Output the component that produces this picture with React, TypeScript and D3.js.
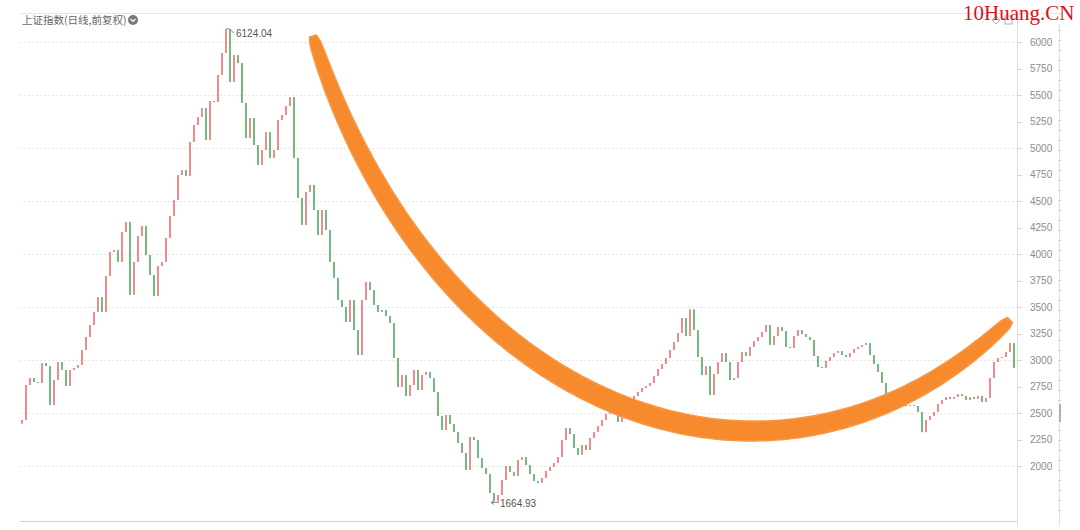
import React from 'react';
import * as d3 from 'd3';

const W = 1080;
const H = 530;

// 上证指数 daily closes, open = previous close
const firstOpen = 2400;
const closes = [
  2434, 2764, 2830, 2792, 2783, 2972, 2943, 2575, 2811, 2981,
  2906, 2755, 2906, 2925, 2953, 3094, 3217, 3330, 3453, 3594,
  3453, 3792, 4019, 4038, 3925, 4208, 4302, 3613, 3925, 4170,
  4264, 3991, 3802, 3604, 3887, 3925, 4151, 4359, 4509, 4745,
  4792, 4736, 5057, 5217, 5292, 5377, 5075, 5443, 5434, 5689,
  5896, 6124.04, 5623, 5877, 5802, 5425, 5094, 5283, 5028, 4840,
  4981, 5151, 4906, 4981, 5264, 5311, 5396, 5481, 4906, 4528,
  4274, 4585, 4651, 4415, 4179, 4415, 4226, 3925, 3774, 3566,
  3500, 3358, 3566, 3283, 3047, 3566, 3736, 3660, 3519, 3453,
  3472, 3415, 3349, 3019, 2745, 2858, 2660, 2764, 2906, 2717,
  2858, 2887, 2830, 2698, 2472, 2340, 2481, 2396, 2321, 2217,
  2123, 1962, 2274, 2245, 2075, 1981, 1925, 1745, 1664.93, 1726,
  1868, 2000, 1943, 1906, 2057, 2085, 2009, 1925, 1858, 1840,
  1887, 1953, 1991, 2028, 2085, 2245, 2358, 2302, 2170, 2104,
  2198, 2151, 2264, 2321, 2377, 2434, 2491, 2509, 2509, 2415,
  2491, 2575, 2623, 2660, 2698, 2736, 2755, 2783, 2849, 2915,
  2962, 3019, 3094, 3170, 3255, 3396, 3226, 3478, 3283, 3028,
  2858, 2943, 2670, 2868, 2981, 3066, 2981, 2811, 2830, 2981,
  3075, 3038, 3123, 3179, 3217, 3264, 3330, 3142, 3226, 3311,
  3274, 3123, 3113, 3226, 3283, 3245, 3217, 3189, 3038, 2934,
  2925, 2991, 3028, 3066, 3085, 3047, 3028, 3066, 3104, 3123,
  3142, 3160, 3047, 2962, 2887, 2783, 2670, 2651, 2660, 2642,
  2604, 2566, 2575, 2566, 2509, 2319, 2434, 2472, 2509, 2585,
  2623, 2651, 2632, 2651, 2679, 2660, 2623, 2651, 2632, 2660,
  2604, 2642, 2830, 2981, 3019, 3028, 3075, 3160, 2925,
];

const yTicks = [2000, 2250, 2500, 2750, 3000, 3250, 3500, 3750, 4000, 4250, 4500, 4750, 5000, 5250, 5500, 5750, 6000];
const gridValues = [2000, 2500, 3000, 3500, 4000, 4500, 5000, 5500, 6000];

// hand-drawn orange crescent: cubic Bézier control points in data units [candle index, index value]
const arcCtrl: [number, number][] = [
  [72.75, 6057],
  [103, 2462],
  [189.5, 1255],
  [247, 3377],
];

const title = '上证指数(日线,前复权)';
const watermark = '10Huang.CN';

const UP = '#ea6c6c';
const DOWN = '#4aa55a';

export default function App() {
  const left = 20;
  const axisX = 1017;
  const x = d3.scaleLinear().domain([0, closes.length - 1]).range([22, 1014]);
  const y = d3.scaleLinear().domain([2000, 6000]).range([466, 42]);

  const candles = closes.map((c, i) => {
    const o = i === 0 ? firstOpen : closes[i - 1];
    return { i, o, c };
  });
  const bw = 1.7;

  const maxV = d3.max(closes) as number;
  const minV = d3.min(closes) as number;
  const maxI = closes.indexOf(maxV);
  const minI = closes.indexOf(minV);

  // crescent geometry from the Bézier
  const P = arcCtrl.map(([i, v]) => [x(i), y(v)]);
  const N = 160;
  const samples = d3.range(N + 1).map((k) => {
    const t = k / N;
    const mt = 1 - t;
    const bx = mt * mt * mt * P[0][0] + 3 * mt * mt * t * P[1][0] + 3 * mt * t * t * P[2][0] + t * t * t * P[3][0];
    const by = mt * mt * mt * P[0][1] + 3 * mt * mt * t * P[1][1] + 3 * mt * t * t * P[2][1] + t * t * t * P[3][1];
    const dx = 3 * mt * mt * (P[1][0] - P[0][0]) + 6 * mt * t * (P[2][0] - P[1][0]) + 3 * t * t * (P[3][0] - P[2][0]);
    const dy = 3 * mt * mt * (P[1][1] - P[0][1]) + 6 * mt * t * (P[2][1] - P[1][1]) + 3 * t * t * (P[3][1] - P[2][1]);
    const len = Math.hypot(dx, dy) || 1;
    const w = 3.5 + 6.7 * Math.pow(Math.sin(Math.PI * t), 0.3);
    return { bx, by, nx: -dy / len, ny: dx / len, w };
  });
  const side1 = samples.map((s) => [s.bx + s.nx * s.w, s.by + s.ny * s.w] as [number, number]);
  const side2 = samples.map((s) => [s.bx - s.nx * s.w, s.by - s.ny * s.w] as [number, number]).reverse();
  const poly = d3.line()([...side1, ...side2]) + 'Z';

  const sans = '"Liberation Sans", Arial, "Noto Sans", sans-serif';

  return (
    <svg
      width={W}
      height={H}
      style={{ position: 'absolute', left: 0, top: 0, background: '#fff' }}
      xmlns="http://www.w3.org/2000/svg"
    >
      <rect x={0} y={0} width={W} height={H} fill="#fff" />
      {/* frame lines */}
      <line x1={left} x2={1062} y1={13.5} y2={13.5} stroke="#e6e6e6" />
      <line x1={left} x2={axisX} y1={521.5} y2={521.5} stroke="#d0d0d0" />
      <line x1={axisX + 0.5} x2={axisX + 0.5} y1={13} y2={526} stroke="#dedede" />
      <line x1={1059.5} x2={1059.5} y1={24} y2={526} stroke="#e2e2e2" />
      <line x1={1059.5} x2={1059.5} y1={30} y2={520} stroke="#d0d0d0" strokeWidth={3} strokeDasharray="1,9" />
      <line x1={1060} x2={1060} y1={404} y2={422} stroke="#b0b0b0" strokeWidth={2} />

      {/* grid */}
      {gridValues.map((v) => (
        <line
          key={'g' + v}
          x1={left}
          x2={axisX + 5}
          y1={Math.round(y(v)) + 0.5}
          y2={Math.round(y(v)) + 0.5}
          stroke="#e6e6e6"
          strokeDasharray="2,2"
        />
      ))}
      {/* y axis */}
      {yTicks.map((v) => (
        <g key={'t' + v}>
          <line x1={axisX} x2={axisX + 5} y1={Math.round(y(v)) + 0.5} y2={Math.round(y(v)) + 0.5} stroke="#d6d6d6" />
          <text x={1030} y={y(v)} dy="0.35em" fontSize={10} fill="#8c8c8c" fontFamily={sans}>
            {v}
          </text>
        </g>
      ))}

      {/* candles */}
      {candles.map((d) => {
        const isUp = d.c >= d.o;
        const y1 = y(Math.max(d.o, d.c));
        const y2 = y(Math.min(d.o, d.c));
        return (
          <rect
            key={d.i}
            x={x(d.i) - bw / 2}
            y={y1}
            width={bw}
            height={Math.max(1, y2 - y1)}
            fill={isUp ? UP : DOWN}
            opacity={0.9}
          />
        );
      })}

      {/* extreme annotations */}
      <path d={`M${x(maxI)},${y(maxV)} h3 l5,4`} fill="none" stroke="#777" strokeWidth={0.8} />
      <text x={x(maxI) + 10} y={y(maxV) + 5} dy="0.35em" fontSize={10} fill="#555" fontFamily={sans}>
        {maxV.toFixed(2)}
      </text>
      <path
        d={`M${x(minI) - 3},${y(minV) + 1} h8 M${x(minI) - 3},${y(minV) + 1} l3,-2 M${x(minI) - 3},${y(minV) + 1} l3,2`}
        fill="none"
        stroke="#777"
        strokeWidth={0.8}
      />
      <text x={x(minI) + 6} y={y(minV) + 2} dy="0.35em" fontSize={10} fill="#555" fontFamily={sans}>
        {minV.toFixed(2)}
      </text>

      {/* orange crescent */}
      <path d={poly} fill="#f68a2c" stroke="#f79846" strokeWidth={1.5} strokeLinejoin="round" />

      {/* title */}
      <text x={22} y={24} fontSize={10.5} fill="#666" fontFamily='"Noto Sans CJK SC", sans-serif'>
        {title}
      </text>
      <circle cx={133} cy={20} r={5} fill="#7a7a7a" />
      <path d="M130.6,19 L133,21.4 L135.4,19" fill="none" stroke="#fff" strokeWidth={1.3} />

      {/* top-right icons */}
      <path d="M996,16 l4,4 l-4,4 l-4,-4 Z" fill="none" stroke="#b0b0b0" strokeWidth={1} />
      <rect x={1005} y={16} width={7} height={8} fill="none" stroke="#b0b0b0" />

      {/* watermark */}
      <text x={963} y={20} fontSize={21} fill="#d9121b" fontFamily='"Liberation Serif", "DejaVu Serif", serif'>
        {watermark}
      </text>
    </svg>
  );
}
